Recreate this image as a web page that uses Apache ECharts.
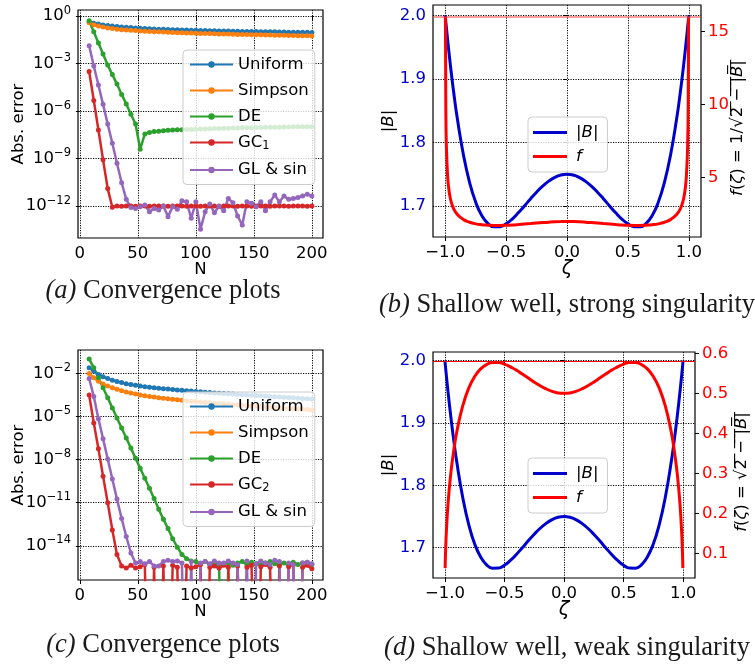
<!DOCTYPE html>
<html>
<head>
<meta charset="utf-8">
<title></title>
<style>
    * { margin: 0; padding: 0; }
    #main { width: 755px; height: 664px; background: #fff; }
</style>
</head>
<body>
<div id="main"></div>
<script src="https://cdn.jsdelivr.net/npm/echarts@6/dist/echarts.min.js"></script>
<script>
// ---- data (errors are given as log10 of the abs. error) ----
var N = [8,12,16,20,24,28,32,36,40,44,48,52,56,60,64,68,72,76,80,84,88,92,96,100,104,
         108,112,116,120,124,128,132,136,140,144,148,152,156,160,164,168,172,176,180,184,188,192,196,200];
var Z = -30; // error exactly 0 -> falls off the bottom of the log axis

var a_uniform = [-0.36,-0.45,-0.51,-0.56,-0.60,-0.63,-0.66,-0.69,-0.71,-0.73,
                 -0.75,-0.77,-0.79,-0.80,-0.82,-0.83,-0.84,-0.85,-0.86,-0.87,
                 -0.88,-0.89,-0.90,-0.90,-0.91,-0.92,-0.93,-0.93,-0.94,-0.95,
                 -0.95,-0.96,-0.96,-0.97,-0.97,-0.98,-0.98,-0.99,-0.99,-1.00,
                 -1.00,-1.01,-1.01,-1.02,-1.02,-1.02,-1.03,-1.03,-1.04];
var a_simpson = [-0.42,-0.55,-0.63,-0.70,-0.75,-0.79,-0.83,-0.86,-0.88,-0.90,
                 -0.92,-0.94,-0.96,-0.97,-0.99,-1.00,-1.01,-1.03,-1.04,-1.05,
                 -1.06,-1.07,-1.08,-1.09,-1.10,-1.10,-1.11,-1.12,-1.13,-1.14,
                 -1.14,-1.15,-1.16,-1.16,-1.17,-1.18,-1.18,-1.19,-1.20,-1.20,
                 -1.21,-1.21,-1.22,-1.23,-1.23,-1.24,-1.24,-1.25,-1.26];
var a_de      = [-0.30,-1.00,-1.70,-2.40,-3.10,-3.70,-4.30,-4.95,-5.55,-6.20,
                 -6.82,-8.42,-7.45,-7.35,-7.30,-7.27,-7.24,-7.22,-7.20,-7.19,
                 -7.18,-7.17,-7.16,-7.15,-7.14,-7.13,-7.12,-7.11,-7.10,-7.09,
                 -7.09,-7.08,-7.07,-7.06,-7.06,-7.05,-7.04,-7.04,-7.03,-7.03,
                 -7.02,-7.02,-7.01,-7.01,-7.00,-7.00,-7.00,-6.99,-6.99];
var a_gc1     = [-3.50,-5.33,-7.20,-9.08,-10.90,-12.08,-12.00,-12.01,-12.00,-12.00,
                 -12.01,-12.00,-12.00,-12.01,-12.00,-12.00,-12.00,-12.01,-12.00,-12.00,
                 -12.00,-12.01,-12.00,-12.00,-12.01,-12.00,-12.00,-12.00,-12.01,-12.00,
                 -12.00,-12.00,-12.01,-12.00,-12.00,-12.01,-12.00,-12.00,-12.00,-12.01,
                 -12.00,-12.00,-12.00,-12.01,-12.00,-12.00,-12.00,-12.01,-12.00];
var a_glsin   = [-1.87,-3.16,-4.36,-5.58,-6.82,-8.04,-9.30,-10.53,-11.58,-12.09,
                 -12.15,-12.04,-11.94,-12.36,-12.15,-12.25,-12.00,-12.67,-12.04,-12.21,
                 -11.67,-11.73,-12.78,-11.73,-13.47,-12.36,-11.88,-12.42,-12.00,-12.30,
                 -11.52,-11.80,-12.63,-13.20,-11.73,-11.83,-12.04,-11.73,-12.30,-11.73,
                 -11.31,-11.73,-11.37,-11.58,-11.52,-11.46,-11.37,-11.25,-11.37];

var c_uniform = [-1.60,-1.85,-2.07,-2.23,-2.36,-2.47,-2.56,-2.64,-2.72,-2.78,
                 -2.83,-2.88,-2.92,-2.96,-3.00,-3.03,-3.06,-3.09,-3.12,-3.15,
                 -3.18,-3.20,-3.23,-3.26,-3.28,-3.31,-3.33,-3.36,-3.38,-3.40,
                 -3.42,-3.44,-3.46,-3.48,-3.50,-3.52,-3.54,-3.56,-3.58,-3.60,
                 -3.62,-3.64,-3.66,-3.68,-3.70,-3.72,-3.74,-3.76,-3.78];
var c_simpson = [-2.00,-2.30,-2.55,-2.73,-2.88,-3.00,-3.10,-3.20,-3.30,-3.37,
                 -3.43,-3.50,-3.55,-3.60,-3.64,-3.69,-3.73,-3.77,-3.80,-3.84,
                 -3.87,-3.90,-3.93,-3.96,-3.99,-4.02,-4.05,-4.08,-4.10,-4.13,
                 -4.15,-4.18,-4.20,-4.22,-4.25,-4.27,-4.29,-4.31,-4.34,-4.36,
                 -4.38,-4.40,-4.42,-4.44,-4.46,-4.48,-4.50,-4.52,-4.54];
var c_de      = [-1.00,-1.60,-2.30,-3.00,-3.70,-4.40,-5.10,-5.80,-6.50,-7.20,
                 -7.90,-8.60,-9.30,-10.00,-10.70,-11.45,-12.15,-12.80,-13.50,-14.10,
                 -14.60,-14.90,-15.05,-15.10,-15.25,-15.10,-15.30,-15.20,-15.35,Z,
                 -15.20,-15.35,-15.20,-15.10,-15.30,-15.15,-15.25,-15.35,-15.20,-15.10,
                 -15.25,-15.30,-15.20,-15.35,-15.15,-15.30,-15.20,-15.15,-15.30];
var c_gc2     = [-3.50,-5.45,-7.25,-9.15,-11.00,-12.90,-14.60,-15.40,-15.55,-15.35,
                 -15.55,-15.45,-15.30,Z,-15.50,Z,-15.40,Z,-15.35,-15.50,
                 Z,-15.40,-15.55,-15.45,-15.30,Z,-15.50,-15.40,-15.55,-15.35,
                 -15.50,Z,-15.40,Z,-15.50,-15.35,Z,-15.45,-15.30,-15.50,
                 Z,-15.40,Z,-15.45,-15.30,Z,-15.50,-15.35,-15.60];
var c_glsin   = [-2.35,-3.60,-5.15,-6.55,-7.95,-9.35,-10.75,-12.10,-13.35,-14.50,
                 -15.20,-15.10,-15.25,-15.10,-15.40,-15.40,-15.10,-15.00,-15.10,-15.05,
                 -15.20,Z,-15.10,Z,-15.20,-15.10,-15.25,-15.05,-15.20,-15.20,
                 -15.05,-15.20,-15.30,Z,-15.05,Z,-15.25,-15.05,-15.20,-15.30,
                 -15.00,-15.10,Z,-15.20,-15.30,Z,-15.20,-15.15,-15.25];

var zeta = [-1,-0.998,-0.995,-0.99,-0.98,-0.97,-0.96,-0.95,-0.93,-0.9,-0.85,-0.8,-0.75,-0.7,
            -0.65,-0.6,-0.55,-0.5,-0.45,-0.4,-0.35,-0.3,-0.25,-0.2,-0.15,-0.1,-0.05,0,
            0.05,0.1,0.15,0.2,0.25,0.3,0.35,0.4,0.45,0.5,0.55,0.6,0.65,0.7,0.75,0.8,0.85,
            0.9,0.93,0.95,0.96,0.97,0.98,0.99,0.995,0.998,1];
var absB = [2.0,1.9960,1.9901,1.9804,1.9616,1.9435,1.9262,1.9096,1.8786,1.8371,1.7803,1.7372,1.7061,1.6851,
            1.6726,1.6672,1.6674,1.6719,1.6795,1.6892,1.7000,1.7111,1.7217,1.7312,1.7391,1.7451,1.7488,1.75,
            1.7488,1.7451,1.7391,1.7312,1.7217,1.7111,1.7000,1.6892,1.6795,1.6719,1.6674,1.6672,1.6726,1.6851,
            1.7061,1.7372,1.7803,1.8371,1.8786,1.9096,1.9262,1.9435,1.9616,1.9804,1.9901,1.9960,2.0];
var fStrong = [null,16.0,10.05,7.14,5.10,4.21,3.68,3.33,2.87,2.48,2.13,1.95,1.84,1.78,
               1.75,1.733,1.734,1.746,1.766,1.794,1.826,1.860,1.896,1.929,1.958,1.981,1.995,2.0,
               1.995,1.981,1.958,1.929,1.896,1.860,1.826,1.794,1.766,1.746,1.734,1.733,1.75,1.78,
               1.84,1.95,2.13,2.48,2.87,3.33,3.68,4.21,5.10,7.14,10.05,16.0,null];
var fWeak = [null,0.063,0.0995,0.140,0.196,0.238,0.272,0.301,0.348,0.404,0.469,0.513,0.542,0.561,
             0.572,0.577,0.577,0.573,0.566,0.558,0.548,0.538,0.528,0.519,0.511,0.505,0.501,0.5,
             0.501,0.505,0.511,0.519,0.528,0.538,0.548,0.558,0.566,0.573,0.577,0.577,0.572,0.561,
             0.542,0.513,0.469,0.404,0.348,0.301,0.272,0.238,0.196,0.140,0.0995,0.063,null];
var fStrongMax = 16.0;
var fWeakMax = 0.577;

var nTicks = [0, 50, 100, 150, 200];
var logTicksA = [-12, -9, -6, -3, 0];
var logTicksC = [-14, -11, -8, -5, -2];
var zetaTicks = [-1, -0.5, 0, 0.5, 1];
var bTicks = [1.7, 1.8, 1.9, 2.0];
var fStrongTicks = [5, 10, 15];
var fWeakTicks = [0.1, 0.2, 0.3, 0.4, 0.5, 0.6];

// ---- styling ----
var FONT = 'DejaVu Sans';
var FS = 16.5;
var BLUE = '#0000cd', RED = '#ff0000';
var C = ['#1f77b4', '#ff7f0e', '#2ca02c', '#d62728', '#9467bd'];
var MINUS = '\u2212';

function pairs(xs, ys) {
    return xs.map(function (x, i) { return [x, ys[i]]; });
}
function fmt1(v) {
    return (v < 0 ? MINUS : '') + Math.abs(v).toFixed(1);
}
var gridLine = { show: true, lineStyle: { color: '#000', type: [1.2, 1.3], width: 1 } };
var tick = { length: 4, lineStyle: { color: '#000', width: 1 } };

function xAxisN(gi) {
    return {
        type: 'value', gridIndex: gi, min: -1.6, max: 209.6,
        axisLine: { show: false },
        axisTick: Object.assign({ customValues: nTicks }, tick),
        axisLabel: { customValues: nTicks, color: '#000', fontFamily: FONT, fontSize: FS, margin: 7 },
        splitLine: gridLine,
        name: 'N', nameLocation: 'middle', nameGap: 23, nameMoveOverlap: false,
        nameTextStyle: { color: '#000', fontFamily: FONT, fontSize: FS }
    };
}
function xAxisZeta(gi) {
    return {
        type: 'value', gridIndex: gi, min: -1.1, max: 1.1,
        axisLine: { show: false },
        axisTick: Object.assign({ customValues: zetaTicks }, tick),
        axisLabel: { customValues: zetaTicks, formatter: fmt1, color: '#000', fontFamily: FONT, fontSize: FS, margin: 7 },
        splitLine: gridLine,
        name: '{i|ζ}', nameLocation: 'middle', nameGap: 22, nameMoveOverlap: false,
        nameTextStyle: { color: '#000', fontFamily: FONT, fontSize: FS + 2, rich: { i: { fontStyle: 'italic', fontFamily: FONT, fontSize: FS + 3 } } }
    };
}
function yAxisLog(gi, min, max, ticks) {
    return {
        type: 'value', gridIndex: gi, min: min, max: max,
        axisLine: { show: false },
        axisTick: Object.assign({ customValues: ticks }, tick),
        axisLabel: {
            customValues: ticks, margin: 7, color: '#000',
            formatter: function (v) { return '{b|10}{s|' + (v < 0 ? MINUS + (-v) : v) + '}'; },
            rich: {
                b: { fontFamily: FONT, fontSize: FS, color: '#000' },
                s: { fontFamily: FONT, fontSize: 11.5, color: '#000', padding: [0, 0, 11, 0] }
            }
        },
        splitLine: gridLine,
        name: 'Abs. error', nameLocation: 'middle', nameGap: 51, nameRotate: 90, nameMoveOverlap: false,
        nameTextStyle: { color: '#000', fontFamily: FONT, fontSize: FS }
    };
}
function yAxisB(gi, min, max) {
    return {
        type: 'value', gridIndex: gi, min: min, max: max,
        axisLine: { show: false },
        axisTick: Object.assign({ customValues: bTicks }, tick),
        axisLabel: { customValues: bTicks, formatter: fmt1, color: BLUE, fontFamily: FONT, fontSize: FS, margin: 7 },
        splitLine: gridLine,
        name: '|{i|B}|', nameLocation: 'middle', nameGap: 36, nameRotate: 90, nameMoveOverlap: false,
        nameTextStyle: { color: '#000', fontFamily: FONT, fontSize: FS, rich: { i: { fontStyle: 'italic', fontFamily: FONT, fontSize: FS } } }
    };
}
function over(s) {
    return s.split('').map(function (ch) { return ch + '\u0305'; }).join('');
}
function yAxisF(gi, min, max, ticks, fmt, name, gap) {
    return {
        type: 'value', gridIndex: gi, position: 'right', min: min, max: max,
        axisLine: { show: false },
        axisTick: Object.assign({ customValues: ticks }, tick),
        axisLabel: { customValues: ticks, formatter: fmt, color: RED, fontFamily: FONT, fontSize: FS, margin: 7 },
        splitLine: { show: false },
        name: name, nameLocation: 'middle', nameGap: gap, nameRotate: 90, nameMoveOverlap: false,
        nameTextStyle: { color: '#000', fontFamily: FONT, fontSize: FS, padding: [0, 14, 0, 0],
            rich: { i: { fontStyle: 'italic', fontFamily: FONT, fontSize: FS } } }
    };
}

function errSeries(name, ys, color, xi, yi) {
    return {
        name: name, type: 'line', xAxisIndex: xi, yAxisIndex: yi,
        data: pairs(N, ys), symbol: 'circle', symbolSize: 5, showSymbol: true,
        color: color, lineStyle: { width: 2.5, color: color }, itemStyle: { color: color },
        clip: true, animation: false
    };
}
function curve(name, ys, color, xi, yi, extra) {
    return Object.assign({
        name: name, type: 'line', xAxisIndex: xi, yAxisIndex: yi,
        data: pairs(zeta, ys), symbol: 'none', smooth: 0.5,
        color: color, lineStyle: { width: 3, color: color },
        clip: true, animation: false
    }, extra || {});
}
function topLine(value, color, width) {
    return {
        silent: true, symbol: 'none', label: { show: false },
        lineStyle: { color: color, width: width, type: 'solid' },
        data: [{ yAxis: value }], animation: false
    };
}

var legendBox = {
    orient: 'vertical', selectedMode: false,
    backgroundColor: 'rgba(255,255,255,0.8)', borderColor: '#cccccc', borderWidth: 1, borderRadius: 4
};
function errLegend(top, gcName) {
    return Object.assign({
        data: ['Uniform', 'Simpson', 'DE', gcName, 'GL & sin'],
        left: 183, top: top, itemWidth: 43, itemHeight: 8, itemGap: 9, padding: [6, 6, 6, 6],
        formatter: function (n) { return n.indexOf('GC') === 0 ? 'GC{sub|' + n.slice(2) + '}' : n; },
        textStyle: { color: '#000', fontFamily: FONT, fontSize: FS,
            rich: { sub: { fontFamily: FONT, fontSize: 11.5, color: '#000', padding: [8, 0, 0, 0] } } }
    }, legendBox);
}
function fLegend(top) {
    return Object.assign({
        data: [{ name: '|B|', icon: 'rect' }, { name: 'f', icon: 'rect' }],
        left: 528, top: top, itemWidth: 34, itemHeight: 3, itemGap: 7, padding: [7, 9, 7, 5],
        formatter: function (n) { return n === 'f' ? '{i|f}' : '|{i|B}|'; },
        textStyle: { color: '#000', fontFamily: FONT, fontSize: FS, padding: [0, 0, 0, 4],
            rich: { i: { fontFamily: FONT, fontSize: FS, fontStyle: 'italic', color: '#000' } } }
    }, legendBox);
}
function caption(x, y, tag, text) {
    return {
        type: 'text', silent: true,
        style: {
            x: x, y: y, align: 'center', verticalAlign: 'middle',
            text: '{i|(' + tag + ')} ' + text,
            fontFamily: 'Liberation Serif', fontSize: 26.5, fill: '#1a1a1a',
            rich: { i: { fontFamily: 'Liberation Serif', fontStyle: 'italic', fontSize: 26.5, fill: '#1a1a1a' } }
        }
    };
}

var gridStyle = { show: true, borderColor: '#000', borderWidth: 1.2, backgroundColor: 'transparent', outerBoundsMode: 'none' };

var myChart = echarts.init(document.getElementById('main'), null, { renderer: 'canvas' });
var option = {
    animation: false,
    backgroundColor: '#fff',
    grid: [
        Object.assign({ left: 78, top: 10, width: 245, height: 228 }, gridStyle),
        Object.assign({ left: 433, top: 5, width: 268, height: 232 }, gridStyle),
        Object.assign({ left: 78, top: 350, width: 245, height: 230 }, gridStyle),
        Object.assign({ left: 433, top: 352, width: 262, height: 226 }, gridStyle)
    ],
    xAxis: [xAxisN(0), xAxisZeta(1), xAxisN(2), xAxisZeta(3)],
    yAxis: [
        yAxisLog(0, -14.02, 0.38, logTicksA),
        yAxisB(1, 1.6512, 2.0162),
        yAxisF(1, 0.94, 16.83, fStrongTicks, function (v) { return String(v); },
            '{i|f}({i|ζ}) = 1/√' + over('2 − |') + '{i|' + over('B') + '}' + over('|'), 28),
        yAxisLog(2, -16.38, -0.37, logTicksC),
        yAxisB(3, 1.6514, 2.014),
        yAxisF(3, 0.0383, 0.6033, fWeakTicks, fmt1,
            '{i|f}({i|ζ}) = √' + over('2 − |') + '{i|' + over('B') + '}' + over('|'), 38)
    ],
    legend: [errLegend(50, 'GC1'), fLegend(117), errLegend(392, 'GC2'), fLegend(458)],
    series: [
        errSeries('Uniform', a_uniform, C[0], 0, 0),
        errSeries('Simpson', a_simpson, C[1], 0, 0),
        errSeries('DE', a_de, C[2], 0, 0),
        errSeries('GC1', a_gc1, C[3], 0, 0),
        errSeries('GL & sin', a_glsin, C[4], 0, 0),

        curve('|B|', absB, BLUE, 1, 1),
        curve('f', fStrong, RED, 1, 2, { markLine: topLine(fStrongMax, 'rgba(255,60,60,0.5)', 2) }),

        errSeries('Uniform', c_uniform, C[0], 2, 3),
        errSeries('Simpson', c_simpson, C[1], 2, 3),
        errSeries('DE', c_de, C[2], 2, 3),
        errSeries('GC2', c_gc2, C[3], 2, 3),
        errSeries('GL & sin', c_glsin, C[4], 2, 3),

        curve('|B|', absB, BLUE, 3, 4),
        curve('f', fWeak, RED, 3, 5, { markLine: topLine(fWeakMax, RED, 1) })
    ],
    graphic: [
        caption(163, 291, 'a', 'Convergence plots'),
        caption(567, 305, 'b', 'Shallow well, strong singularity'),
        caption(163, 645, 'c', 'Convergence plots'),
        caption(567, 648, 'd', 'Shallow well, weak singularity')
    ]
};
myChart.setOption(option);
</script>
</body>
</html>
